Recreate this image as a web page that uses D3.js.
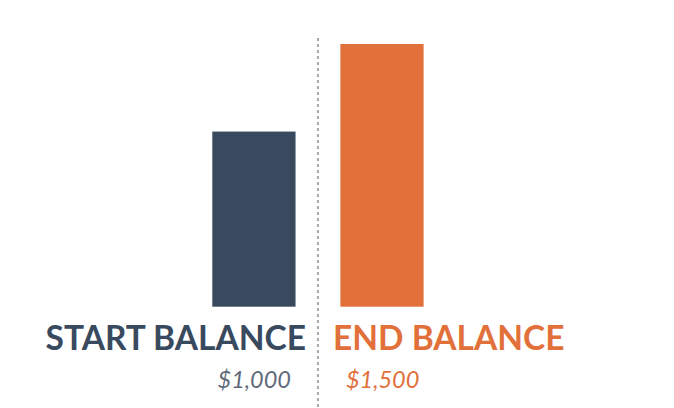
<!DOCTYPE html>
<html>
<head>
<meta charset="utf-8">
<script src="https://cdn.jsdelivr.net/npm/d3@7"></script>
<style>
  body { margin: 0; background: #fff; }
  svg { display: block; }
</style>
</head>
<body>
<script>
// data
const categories = ["START BALANCE", "END BALANCE"];
const values = [1000, 1500];
const valueLabels = ["$1,000", "$1,500"];
const colors = ["#394a5f", "#e2703a"];
const labelColors = ["#394a5f", "#e2703a"];
const valueColors = ["#5f6b7a", "#e2703a"];

const width = 674, height = 408;

const svg = d3.select("body").append("svg")
  .attr("width", width)
  .attr("height", height);

const x = d3.scaleBand()
  .domain(categories)
  .range([212.3, 423.6])
  .paddingInner(0.35)
  .paddingOuter(0);

const y = d3.scaleLinear()
  .domain([0, 1500])
  .range([306.7, 44]);

// bars
svg.append("g").selectAll("rect")
  .data(categories)
  .join("rect")
  .attr("x", d => x(d))
  .attr("y", (d, i) => y(values[i]))
  .attr("width", x.bandwidth())
  .attr("height", (d, i) => y(0) - y(values[i]))
  .attr("fill", (d, i) => colors[i]);

// dotted divider between the two bars
const midX = (x(categories[0]) + x.bandwidth() + x(categories[1])) / 2;
svg.append("line")
  .attr("x1", midX).attr("x2", midX)
  .attr("y1", 38).attr("y2", height)
  .attr("stroke", "#a8a8a8")
  .attr("stroke-width", 2)
  .attr("stroke-dasharray", "3,3");

// category labels
svg.append("g").selectAll("text")
  .data(categories)
  .join("text")
  .attr("x", (d, i) => i === 0 ? midX - 12 : midX + 15)
  .attr("y", 350)
  .attr("text-anchor", (d, i) => i === 0 ? "end" : "start")
  .attr("font-family", "Lato, sans-serif")
  .attr("font-weight", "bold")
  .attr("font-size", 33.5)
  .attr("fill", (d, i) => labelColors[i])
  .text(d => d);

// value labels
svg.append("g").selectAll("text")
  .data(valueLabels)
  .join("text")
  .attr("x", (d, i) => i === 0 ? midX - 27 : midX + 28)
  .attr("y", 388)
  .attr("text-anchor", (d, i) => i === 0 ? "end" : "start")
  .attr("font-family", "Lato, sans-serif")
  .attr("font-style", "italic")
  .attr("font-size", 23.5)
  .attr("fill", (d, i) => valueColors[i])
  .text(d => d);
</script>
</body>
</html>
